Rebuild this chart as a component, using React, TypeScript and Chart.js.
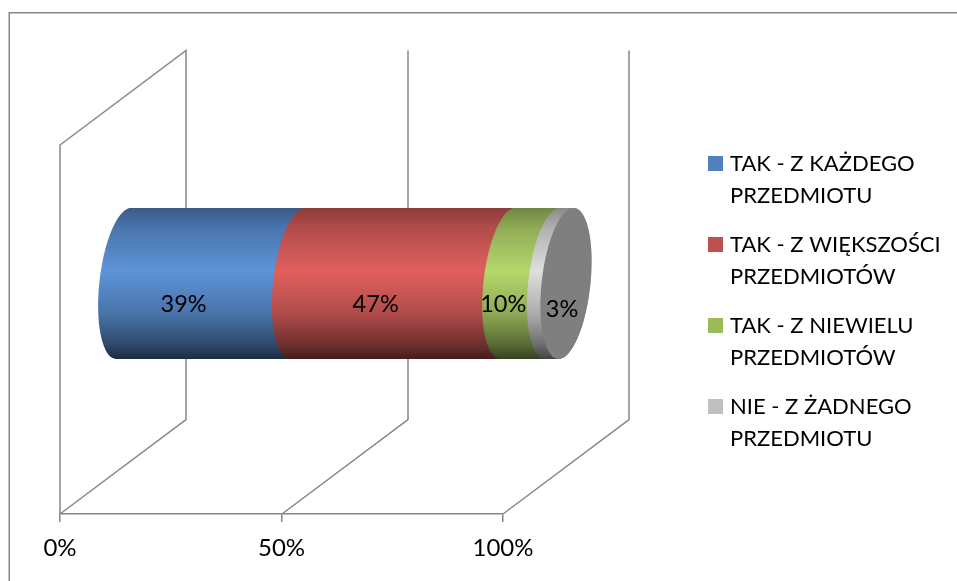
import React, { useEffect, useRef } from "react";
import { Chart, registerables } from "chart.js";

Chart.register(...registerables);

// Survey answers and their rounded shares in percent
const answers = [
  ["TAK - Z KAŻDEGO", "PRZEDMIOTU"],
  ["TAK - Z WIĘKSZOŚCI", "PRZEDMIOTÓW"],
  ["TAK - Z NIEWIELU", "PRZEDMIOTÓW"],
  ["NIE - Z ŻADNEGO", "PRZEDMIOTU"],
];
const shares = [39, 47, 10, 3];
const legendColors = ["#4f81bd", "#c0504d", "#9bbb59", "#bfbfbf"];
const brightColors = [
  [93, 148, 217],
  [224, 96, 93],
  [181, 216, 108],
  [222, 222, 222],
];
const axisTicks = [0, 50, 100];

const total = shares.reduce((a, b) => a + b, 0);
const FONT = "Lato, 'Open Sans', sans-serif";
const LINE = "#868686";
const CAP = "#7f7f7f";
const DEPTH_X = 126;
const DEPTH_Y = -94.5;
const RX = 24.5;
const SKEW = 7.5;

// Outline of a tilted circular section, from angle a to angle b
function arc(ctx: CanvasRenderingContext2D, cx: number, cy: number, h: number, a: number, b: number) {
  const steps = 48;
  for (let i = 0; i <= steps; i++) {
    const t = a + ((b - a) * i) / steps;
    ctx.lineTo(cx + RX * Math.cos(t) - SKEW * Math.sin(t), cy + h * Math.sin(t));
  }
}

function shade(rgb: number[], f: number) {
  return `rgb(${rgb.map((c) => Math.round(c * f)).join(",")})`;
}

// Square legend marker
function swatch(color: string) {
  const c = document.createElement("canvas");
  c.width = 15;
  c.height = 15;
  const g = c.getContext("2d") as CanvasRenderingContext2D;
  g.fillStyle = color;
  g.fillRect(0, 0, 15, 15);
  return c;
}

// Draws the 3D walls, the cylinder segments and their value labels
const cylinderPlugin = {
  id: "cylinder",
  beforeDraw(chart: any) {
    const { ctx } = chart;
    ctx.save();
    ctx.strokeStyle = LINE;
    ctx.lineWidth = 1.5;
    ctx.beginPath();
    ctx.moveTo(9.25, chart.height);
    ctx.lineTo(9.25, 12.75);
    ctx.lineTo(chart.width, 12.75);
    ctx.stroke();
    ctx.restore();
  },
  beforeDatasetsDraw(chart: any) {
    const { ctx, chartArea, scales } = chart;
    const x = scales.x;
    ctx.save();
    ctx.strokeStyle = LINE;
    ctx.lineWidth = 1.5;
    axisTicks.forEach((tick, i) => {
      const px = Math.round(x.getPixelForValue(tick));
      ctx.beginPath();
      ctx.moveTo(px, chartArea.bottom);
      ctx.lineTo(px + DEPTH_X, chartArea.bottom + DEPTH_Y);
      ctx.lineTo(px + DEPTH_X, chartArea.top + DEPTH_Y);
      if (i === 0) {
        ctx.lineTo(px, chartArea.top);
        ctx.lineTo(px, chartArea.bottom);
      }
      ctx.stroke();
    });

    const metas = chart.getSortedVisibleDatasetMetas().slice().sort((a: any, b: any) => a.index - b.index);
    metas.forEach((meta: any, i: number) => {
      const el = meta.data[0];
      const cy = el.y + DEPTH_Y / 2 + 1.2;
      const h = el.height / 2;
      const x0 = el.base + DEPTH_X / 2;
      const x1 = el.x + DEPTH_X / 2;
      const g = ctx.createLinearGradient(0, cy - h, 0, cy + h);
      const rgb = brightColors[i];
      g.addColorStop(0, shade(rgb, 0.62));
      g.addColorStop(0.14, shade(rgb, 0.8));
      g.addColorStop(0.42, shade(rgb, 1));
      g.addColorStop(0.7, shade(rgb, 0.78));
      g.addColorStop(0.9, shade(rgb, 0.5));
      g.addColorStop(1, shade(rgb, 0.3));
      ctx.fillStyle = g;
      ctx.beginPath();
      arc(ctx, x0, cy, h, (3 * Math.PI) / 2, Math.PI / 2);
      arc(ctx, x1, cy, h, Math.PI / 2, -Math.PI / 2);
      ctx.closePath();
      ctx.fill();
      if (i === metas.length - 1) {
        ctx.fillStyle = CAP;
        ctx.beginPath();
        arc(ctx, x1, cy, h, 0, Math.PI * 2);
        ctx.closePath();
        ctx.fill();
      }
    });

    ctx.fillStyle = "#000";
    ctx.font = `23.5px ${FONT}`;
    ctx.textAlign = "center";
    ctx.textBaseline = "middle";
    metas.forEach((meta: any, i: number) => {
      const el = meta.data[0];
      const last = i === metas.length - 1;
      const lx = last ? el.x + DEPTH_X / 2 - 4 : (el.x + el.base) / 2 + 36;
      const ly = el.y + (last ? -20.5 : -25);
      ctx.fillText(`${shares[i]}%`, lx, ly);
    });
    ctx.restore();
  },
  // The cylinder replaces the flat bars
  beforeDatasetDraw() {
    return false;
  },
  // The legend sits in the right-hand margin, beside the chart
  afterLayout(chart: any) {
    const lg = chart.legend;
    const w = lg.width;
    const h = lg.height;
    lg.left = 696;
    lg.right = 696 + w;
    lg.top = 136.5;
    lg.bottom = 136.5 + h;
  },
};

export default function App() {
  const ref = useRef<HTMLCanvasElement>(null);
  useEffect(() => {
    const markers = legendColors.map(swatch);
    const chart = new Chart(ref.current as HTMLCanvasElement, {
      type: "bar",
      data: {
        labels: [""],
        datasets: answers.map((label, i) => ({
          label: label as any,
          data: [(shares[i] / total) * 100],
          backgroundColor: legendColors[i],
          barThickness: 151,
        })),
      },
      options: {
        indexAxis: "y",
        animation: false,
        responsive: false,
        layout: { padding: { left: 60, right: 454, top: 145, bottom: 0 } },
        scales: {
          x: {
            stacked: true,
            min: 0,
            max: 100,
            afterBuildTicks: (s: any) => {
              s.ticks = axisTicks.map((value) => ({ value }));
            },
            afterFit: (s: any) => {
              s.height = 67;
            },
            border: { color: LINE, width: 1.5 },
            grid: { drawOnChartArea: false, drawTicks: true, tickLength: 8, color: LINE, lineWidth: 1.5 },
            ticks: {
              callback: (v: any) => `${v}%`,
              color: "#000",
              padding: 12,
              maxRotation: 0,
              font: { family: FONT, size: 24 },
            },
          },
          y: { stacked: true, display: false },
        },
        plugins: {
          tooltip: { enabled: false },
          legend: {
            position: "chartArea",
            align: "start",
            labels: {
              usePointStyle: true,
              boxWidth: 7,
              boxHeight: 15,
              padding: 16,
              color: "#000",
              font: { family: FONT, size: 22, lineHeight: 32.5 / 22 },
              generateLabels: (c: any) =>
                Chart.defaults.plugins.legend.labels
                  .generateLabels(c)
                  .map((item: any, i: number) => ({ ...item, pointStyle: markers[i] })),
            },
          },
        },
      } as any,
      plugins: [cylinderPlugin],
    });
    return () => chart.destroy();
  }, []);
  return (
    <div style={{ position: "absolute", left: 0, top: 0, width: 957, height: 581, background: "#fff" }}>
      <canvas ref={ref} width={957} height={581} style={{ display: "block" }} />
    </div>
  );
}
